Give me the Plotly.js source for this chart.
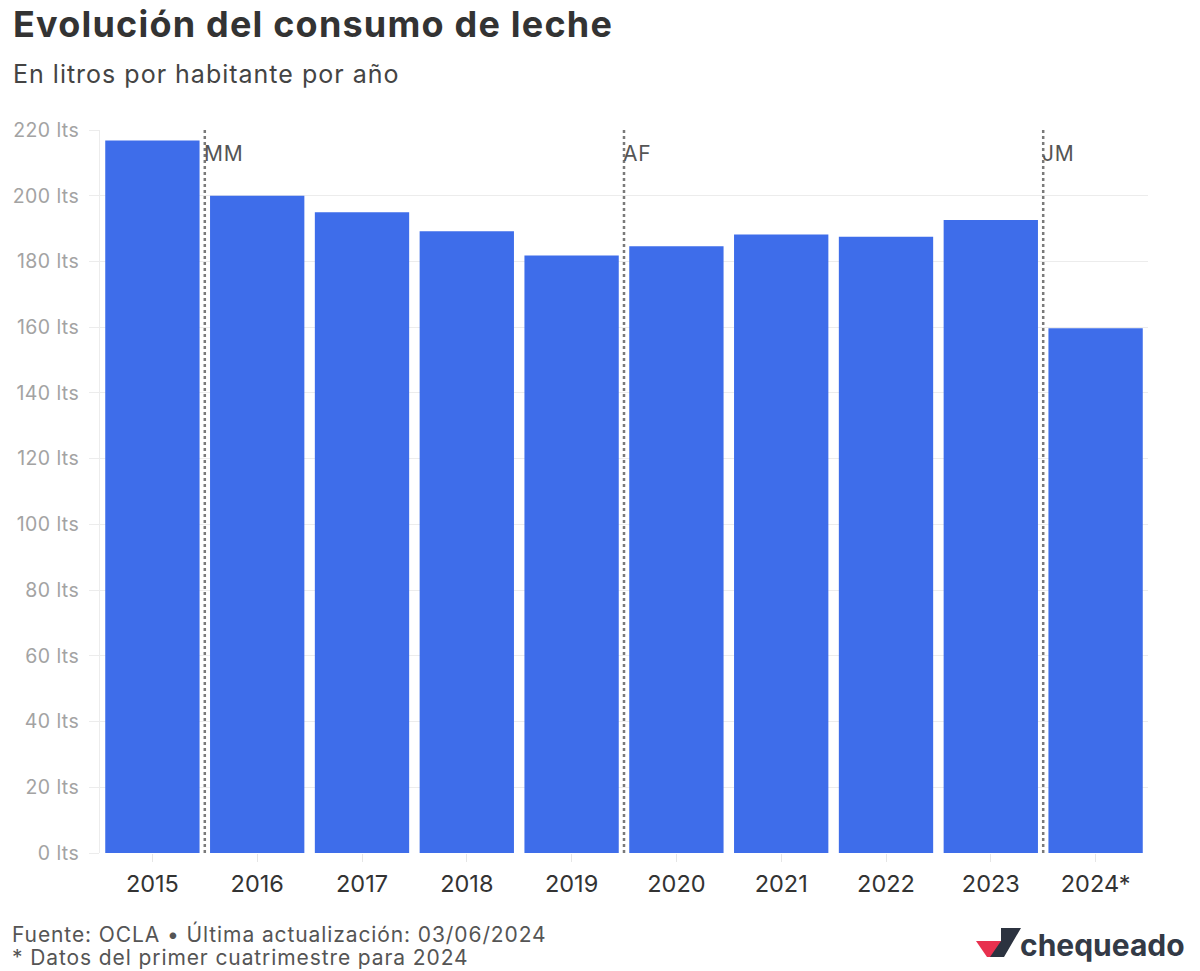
<!DOCTYPE html>
<html>
<head>
<meta charset="utf-8">
<script src="https://cdn.plot.ly/plotly-3.0.1.min.js"></script>
<style>
  html, body { margin: 0; padding: 0; background: #fff; }
  #chart { width: 1200px; height: 971px; }
  #chart .ytick text { letter-spacing: 0.4px; }
</style>
</head>
<body>
<div id="chart"></div>
<script>
// ---- Data ----
const years = ['2015', '2016', '2017', '2018', '2019', '2020', '2021', '2022', '2023', '2024*'];
const litros = [216.8, 200, 195, 189.2, 181.8, 184.6, 188.2, 187.5, 192.6, 159.7];
const yTicks = [0, 20, 40, 60, 80, 100, 120, 140, 160, 180, 200, 220];
const periodLabels = ['MM', 'AF', 'JM'];
const periodStartYears = ['2016', '2020', '2024*'];

const titleText = 'Evolución del consumo de leche';
const subtitleText = 'En litros por habitante por año';
const sourceText = 'Fuente: OCLA • Última actualización: 03/06/2024';
const noteText = '* Datos del primer cuatrimestre para 2024';

// ---- Layout helpers (pixel -> paper) ----
const W = 1200, H = 971;
const M = { l: 100, r: 52, t: 130, b: 118 };
const PW = W - M.l - M.r, PH = H - M.t - M.b;
const px = x => (x - M.l) / PW;
const py = y => (H - M.b - y) / PH;
const spaced = (t, s) => '<span style="letter-spacing:' + s + 'px">' + t + '</span>';

const FONT = 'Inter, "Liberation Sans", Arial, sans-serif';

const shapes = [];
const annotations = [];

periodStartYears.forEach((yr, i) => {
  const pos = years.indexOf(yr) - 0.5;
  shapes.push({
    type: 'line', xref: 'x', yref: 'y',
    x0: pos, x1: pos, y0: 0, y1: 220,
    line: { color: '#7a7a7a', width: 2.5, dash: 'dot' },
    layer: 'above'
  });
  annotations.push({
    xref: 'x', yref: 'y', x: pos, y: 220,
    xanchor: 'left', yanchor: 'top', xshift: -3, yshift: -9,
    text: spaced(periodLabels[i], 0.8), showarrow: false,
    font: { family: FONT, size: 21, color: '#555555' }
  });
});

// Titles and footer
annotations.push({
  xref: 'paper', yref: 'paper', x: px(11), y: py(0),
  xanchor: 'left', yanchor: 'top', showarrow: false,
  text: spaced('<b>' + titleText + '</b>', 1.2),
  font: { family: FONT, size: 36, color: '#333333' }
});
annotations.push({
  xref: 'paper', yref: 'paper', x: px(11), y: py(57),
  xanchor: 'left', yanchor: 'top', showarrow: false,
  text: spaced(subtitleText, 1.0),
  font: { family: FONT, size: 25, color: '#444444' }
});
annotations.push({
  xref: 'paper', yref: 'paper', x: px(12), y: py(921),
  xanchor: 'left', yanchor: 'top', showarrow: false,
  borderpad: 0, borderwidth: 0,
  text: spaced(sourceText, 0.9),
  font: { family: FONT, size: 21, color: '#555555' }
});
annotations.push({
  xref: 'paper', yref: 'paper', x: px(12), y: py(945),
  xanchor: 'left', yanchor: 'top', showarrow: false,
  borderpad: 0, borderwidth: 0,
  text: spaced(noteText, 0.9),
  font: { family: FONT, size: 21, color: '#555555' }
});

// Logo "chequeado"
function pathFromPx(pts) {
  return 'M ' + pts.map(p => px(p[0]) + ',' + py(p[1])).join(' L ') + ' Z';
}
shapes.push({
  type: 'path', xref: 'paper', yref: 'paper',
  path: pathFromPx([[976, 941], [1001, 941], [1004, 957], [987, 957]]),
  fillcolor: '#e8314f', line: { width: 0 }
});
shapes.push({
  type: 'path', xref: 'paper', yref: 'paper',
  path: pathFromPx([[1001, 928], [1021, 928], [1004, 957], [990, 957], [1001, 941]]),
  fillcolor: '#2c3340', line: { width: 0 }
});
annotations.push({
  xref: 'paper', yref: 'paper', x: px(1018), y: py(945),
  xanchor: 'left', yanchor: 'middle', showarrow: false,
  text: '<b>chequeado</b>',
  font: { family: FONT, size: 30, color: '#333a46' }
});

const trace = {
  type: 'bar',
  x: years,
  y: litros,
  marker: { color: '#3e6dea', line: { width: 0 } },
  hoverinfo: 'x+y'
};

const layout = {
  width: W, height: H,
  margin: M,
  paper_bgcolor: '#ffffff',
  plot_bgcolor: '#ffffff',
  bargap: 0.1,
  showlegend: false,
  font: { family: FONT },
  xaxis: {
    type: 'category',
    tickfont: { family: FONT, size: 23.5, color: '#333333' },
    ticks: 'outside', ticklen: 8, tickcolor: '#e6e6e6', tickwidth: 1,
    ticklabelstandoff: 2,
    showgrid: false, zeroline: false, showline: false,
    fixedrange: true
  },
  yaxis: {
    range: [0, 220],
    tickvals: yTicks,
    ticktext: yTicks.map(v => v + ' lts'),
    tickfont: { family: FONT, size: 19.5, color: '#a3a3a3' },
    ticks: 'outside', ticklen: 10, tickcolor: '#ececec', tickwidth: 1,
    ticklabelstandoff: 6,
    showgrid: true, gridcolor: '#ececec', gridwidth: 1,
    zeroline: false,
    showline: true, linecolor: '#ececec', linewidth: 1,
    fixedrange: true
  },
  shapes: shapes,
  annotations: annotations
};

Plotly.newPlot('chart', [trace], layout, { displayModeBar: false, staticPlot: true });
</script>
</body>
</html>
